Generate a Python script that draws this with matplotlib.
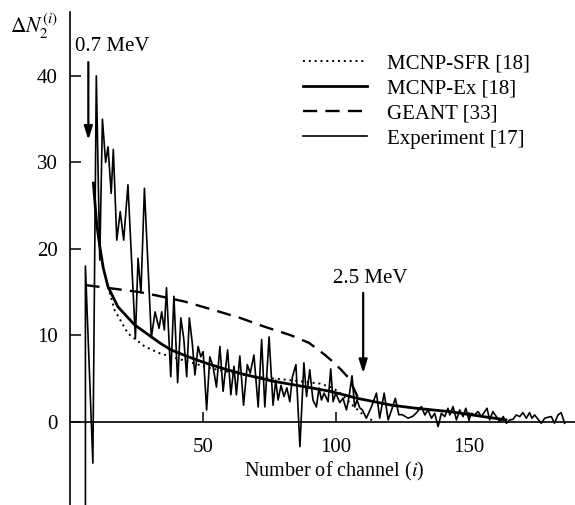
import matplotlib
matplotlib.use("Agg")
import matplotlib.pyplot as plt

plt.rcParams['font.family'] = ['Liberation Serif', 'DejaVu Serif']
plt.rcParams['mathtext.fontset'] = 'stix'

# experiment [17]
exp_x = [5.8, 5.8, 8.6, 9.9, 11.2, 12.2, 13.4, 14.3, 15.5, 16.3, 17.6, 18.9, 20.2, 21.8,
         24.6, 25.6, 26.7, 28.0, 30.6, 32.0, 33.5, 34.5, 35.5, 36.3, 37.9, 39.1, 40.5,
         41.7, 42.8, 43.9, 44.9, 46.0, 47.0, 48.2, 49.2, 50.1, 51.4, 52.6, 53.8, 55.1,
         56.4, 57.6, 59.3, 60.5, 61.7, 62.6, 63.9, 65.3, 66.7, 67.8, 69.2, 70.8, 72.1,
         73.3, 74.9, 76.4, 77.4, 78.3, 79.4, 80.5, 81.6, 82.7, 83.7, 85.0, 86.5, 88.0,
         89.0, 90.2, 91.4, 92.7, 93.7, 94.6, 95.6, 97.1, 98.1, 99.0, 100.0, 101.5, 102.7,
         104.0, 105.0, 106.1, 107.1, 108.0, 109.0, 110.0, 111.5, 113.4, 115.3, 116.5,
         118.2, 119.7, 121.0, 122.4, 123.7, 125.0, 127.2, 128.9, 130.3, 132.2, 133.5,
         134.7, 136.0, 137.2, 138.5, 139.7, 141.0, 142.2, 142.9, 144.1, 145.4, 146.6,
         147.9, 148.9, 150.1, 151.0, 152.3, 153.5, 154.8, 155.6, 156.9, 157.9, 159.1,
         160.4, 161.7, 163.0, 164.2, 165.4, 166.7, 167.9, 169.2, 170.4, 171.7, 172.9,
         173.8, 174.8, 176.1, 177.3, 178.6, 179.8, 181.1, 182.3, 183.6, 184.8, 186.1]
exp_y = [-10.0, 18.0, -4.8, 40.0, 18.7, 35.0, 30.0, 31.8, 26.4, 31.5, 21.0, 24.3, 21.0, 27.4,
         9.6, 18.9, 14.9, 27.0, 9.7, 12.7, 10.8, 12.7, 10.6, 15.5, 5.2, 14.5, 4.5,
         12.0, 9.6, 5.2, 12.0, 9.1, 5.4, 8.7, 7.5, 8.1, 1.35, 7.5, 6.4, 4.0,
         8.7, 3.5, 8.3, 3.1, 6.4, 3.1, 7.6, 1.9, 6.6, 5.6, 7.7, 1.7, 9.5,
         1.7, 9.8, 1.9, 4.8, 2.5, 4.2, 2.9, 3.9, 2.3, 5.2, 6.6, -2.9, 6.8,
         2.9, 6.0, 2.5, 1.7, 3.9, 2.5, 3.3, 2.3, 6.1, 2.3, 3.3, 2.2, 2.7,
         1.35, 2.9, 5.3, 1.7, 2.5, 1.6, 1.35, 0.4, 1.7, 3.3, 0.4,
         3.3, 0.2, 1.35, 2.7, 0.8, 0.8, 0.4, 0.6, 1.0, 1.74, 0.77,
         1.35, 0.39, 0.96, -0.58, 0.96, 0.58, 1.54, 0.77, 1.74, 0.19, 1.35,
         0.58, 1.54, 0.19, 0.96, 0.77, 1.16, 0.58, 0.96, 1.54, 0.19, 1.16,
         0.58, 0.0, 0.58, -0.19, 0.19, 0.27, 0.77, 0.58, 1.04, 0.39, 1.04,
         0.39, 0.77, 0.27, -0.19, 0.39, 0.5, 0.58, -0.19, 0.77, 1.04, -0.19]

# MCNP-Ex [18]
ex_x = [8.8, 10.0, 11.2, 12.5, 14.3, 18.0, 24.3, 33.8, 38.0, 44.5, 50.8, 57.0, 65.0,
        76.0, 89.0, 98.0, 108.0, 121.0, 130.0, 143.0, 155.0, 164.0]
ex_y = [27.6, 23.0, 20.3, 17.8, 15.6, 13.3, 11.2, 9.1, 8.3, 7.5, 6.8, 6.2, 5.5,
        4.7, 4.0, 3.5, 2.7, 1.9, 1.55, 1.15, 0.6, 0.2]

# MCNP-SFR [18]
sfr_x = [14.3, 16.8, 21.8, 28.1, 33.8, 38.2, 46.0, 52.6, 62.0, 72.7, 82.7, 94.0,
         98.0, 101.0, 104.0, 107.0, 111.0, 114.0]
sfr_y = [15.6, 12.9, 10.2, 8.7, 7.9, 7.5, 6.8, 6.2, 5.6, 5.1, 4.8, 4.4,
         4.0, 3.5, 2.6, 1.7, 0.6, 0.1]

# GEANT [33]
geant_x = [5.8, 16.0, 26.0, 32.5, 43.0, 52.0, 64.0, 73.0, 83.0, 90.0, 96.0, 99.0,
           102.0, 105.0, 108.0, 109.5]
geant_y = [15.8, 15.4, 15.0, 14.6, 13.9, 13.1, 12.0, 11.0, 10.0, 9.1, 7.7, 6.9,
           6.0, 5.0, 3.0, 2.0]

xticks = [50, 100, 150]
yticks = [0, 10, 20, 30, 40]

fig = plt.figure(figsize=(5.75, 5.05), dpi=100)
ax = fig.add_axes([70 / 575, 0.0, 505 / 575, 493 / 505])

ax.plot(sfr_x, sfr_y, color='black', lw=1.4, linestyle=(0, (1, 2)),
        label='MCNP-SFR [18]')
ax.plot(ex_x, ex_y, color='black', lw=2.0, label='MCNP-Ex [18]')
ax.plot(geant_x, geant_y, color='black', lw=1.7, linestyle=(0, (6, 3.5)),
        label='GEANT [33]')
ax.plot(exp_x, exp_y, color='black', lw=1.2, label='Experiment [17]')

ax.set_xlim(0, 190)
ax.set_ylim(-9.65, 47.4)

ax.spines['top'].set_visible(False)
ax.spines['right'].set_visible(False)
ax.spines['bottom'].set_position(('data', 0))
ax.spines['left'].set_linewidth(1.2)
ax.spines['bottom'].set_linewidth(1.2)

ax.set_xticks(xticks)
ax.set_yticks(yticks)
ax.tick_params(axis='both', direction='in', labelsize=15, width=1.1)
ax.tick_params(axis='x', length=7, pad=12)
ax.tick_params(axis='y', length=8, pad=9)

ax.annotate('', xy=(6.9, 32.6), xytext=(6.9, 41.6),
            arrowprops=dict(arrowstyle='-|>,head_length=0.8,head_width=0.25',
                            color='black', lw=1.6, shrinkA=0, shrinkB=0))
ax.text(16.0, 43.4, '0.7 MeV', fontsize=15, ha='center', va='center')

ax.annotate('', xy=(110.3, 5.6), xytext=(110.3, 14.9),
            arrowprops=dict(arrowstyle='-|>,head_length=0.8,head_width=0.25',
                            color='black', lw=1.6, shrinkA=0, shrinkB=0))
ax.text(112.8, 16.6, '2.5 MeV', fontsize=15, ha='center', va='center')

fig.text(334 / 575, 1 - 471 / 505, 'Number of channel ($i$)', fontsize=14.5,
         ha='center', va='center')
fig.text(10 / 575, 1 - 26 / 505, r'$\Delta N_2^{(i)}$', fontsize=15.5,
         ha='left', va='center')

ax.legend(loc='upper left', bbox_to_anchor=(303 / 575, 1 - 53.5 / 505),
          bbox_transform=fig.transFigure, frameon=False, fontsize=15,
          handlelength=3.08, handletextpad=0.96, labelspacing=0.27,
          borderpad=0, borderaxespad=0)

fig.savefig('out.png', dpi=100)
